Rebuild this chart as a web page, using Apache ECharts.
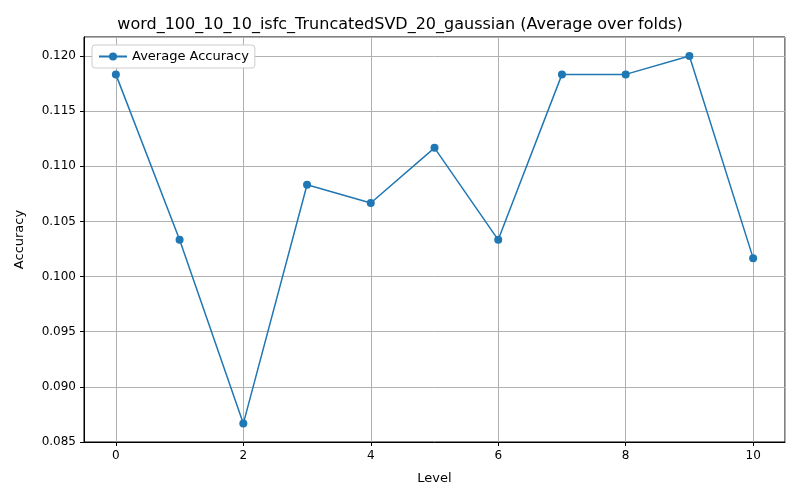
<!DOCTYPE html>
<html>
<head>
<meta charset="utf-8">
<script src="https://cdn.jsdelivr.net/npm/echarts@6/dist/echarts.min.js"></script>
<style>html,body{margin:0;padding:0;background:#fff}#chart{width:800px;height:500px}</style>
</head>
<body>
<div id="chart"></div>
<script>
var levels = [0, 1, 2, 3, 4, 5, 6, 7, 8, 9, 10];
var accuracy = [0.11833, 0.10333, 0.08667, 0.10833, 0.10667, 0.11167, 0.10333, 0.11833, 0.11833, 0.12, 0.10167];

var points = [];
for (var i = 0; i < levels.length; i++) {
    points.push([levels[i], accuracy[i]]);
}

var myChart = echarts.init(document.getElementById('chart'));
var font = 'DejaVu Sans';
myChart.setOption({
    animation: false,
    textStyle: {fontFamily: font},
    title: {
        text: 'word_100_10_10_isfc_TruncatedSVD_20_gaussian (Average over folds)',
        left: 'center', top: 12,
        textStyle: {fontFamily: font, fontSize: 16, fontWeight: 'normal', color: '#000'}
    },
    legend: {
        left: 92, top: 45,
        itemWidth: 28, itemHeight: 10,
        backgroundColor: '#fff', borderColor: '#ccc', borderWidth: 1, borderRadius: 3,
        padding: [5, 6],
        textStyle: {fontFamily: font, fontSize: 13, color: '#000'},
        data: ['Average Accuracy']
    },
    grid: {left: 84, right: 15, top: 37, bottom: 58, show: true, borderColor: '#000', borderWidth: 1},
    xAxis: {
        type: 'value', min: -0.5, max: 10.5, splitNumber: 5,
        name: 'Level', nameLocation: 'middle', nameGap: 30,
        nameTextStyle: {fontFamily: font, fontSize: 13, color: '#000'},
        axisLine: {show: true, onZero: false, lineStyle: {color: '#000'}},
        axisTick: {show: true, length: 4, lineStyle: {color: '#000'}},
        axisLabel: {
            color: '#000', fontSize: 12, showMinLabel: false, showMaxLabel: false,
            formatter: function (v) { return Number.isInteger(v) ? String(v) : ''; }
        },
        splitLine: {show: true, lineStyle: {color: '#b0b0b0'}}
    },
    yAxis: {
        type: 'value', min: 0.085, max: 0.12172, interval: 0.005,
        name: 'Accuracy', nameLocation: 'middle', nameGap: 58,
        nameTextStyle: {fontFamily: font, fontSize: 13, color: '#000'},
        axisLine: {show: true, onZero: false, lineStyle: {color: '#000'}},
        axisTick: {show: true, length: 4, lineStyle: {color: '#000'}},
        axisLabel: {color: '#000', fontSize: 12, showMaxLabel: false,
            formatter: function (v) { return v.toFixed(3); }},
        splitLine: {show: true, lineStyle: {color: '#b0b0b0'}}
    },
    series: [{
        name: 'Average Accuracy',
        type: 'line',
        data: points,
        symbol: 'circle', symbolSize: 8,
        itemStyle: {color: '#1f77b4'},
        lineStyle: {color: '#1f77b4', width: 1.5}
    }]
});
</script>
</body>
</html>
